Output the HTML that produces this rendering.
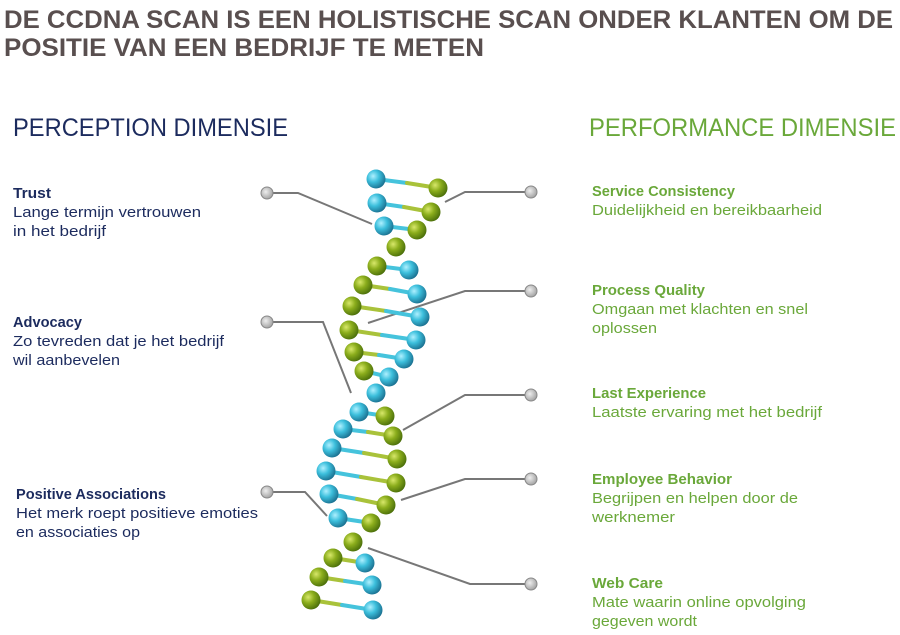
<!DOCTYPE html>
<html><head><meta charset="utf-8"><style>
html,body{margin:0;padding:0;background:#fff;width:900px;height:635px;overflow:hidden}
svg{display:block}
.t{font-family:"Liberation Sans",sans-serif;font-weight:bold;fill:#594f4f;font-size:25px}
.h{font-family:"Liberation Sans",sans-serif;font-size:25px}
.l{font-family:"Liberation Sans",sans-serif;font-size:14.5px}
.b{font-weight:bold}
.n{fill:#1c2b5e}.g{fill:#6aa83a}
</style></head><body>
<svg width="900" height="635" viewBox="0 0 900 635">
<defs>
<radialGradient id="bl" cx="0.35" cy="0.35" r="0.7"><stop offset="0" stop-color="#aef0ff"/><stop offset="0.45" stop-color="#3cbfdc"/><stop offset="1" stop-color="#1a6f8f"/></radialGradient>
<radialGradient id="gr" cx="0.35" cy="0.35" r="0.7"><stop offset="0" stop-color="#d8e86a"/><stop offset="0.45" stop-color="#8bad1c"/><stop offset="1" stop-color="#4a6e0a"/></radialGradient>
<radialGradient id="gy" cx="0.4" cy="0.4" r="0.7"><stop offset="0" stop-color="#eee"/><stop offset="1" stop-color="#999"/></radialGradient>
</defs>
<text class="t" x="4" y="28" textLength="889" lengthAdjust="spacingAndGlyphs">DE CCDNA SCAN IS EEN HOLISTISCHE SCAN ONDER KLANTEN OM DE</text>
<text class="t" x="4" y="56" textLength="480" lengthAdjust="spacingAndGlyphs">POSITIE VAN EEN BEDRIJF TE METEN</text>
<text class="h n" x="13" y="136" textLength="275" lengthAdjust="spacingAndGlyphs">PERCEPTION DIMENSIE</text>
<text class="h g" x="589" y="136" textLength="307" lengthAdjust="spacingAndGlyphs">PERFORMANCE DIMENSIE</text>

<g stroke="#777" stroke-width="2" fill="none">
<polyline points="267,193 298,193 372,224"/>
<polyline points="267,322 323,322 351,393"/>
<polyline points="267,492 305,492 327,516"/>
<polyline points="531,192 465,192 445,202"/>
<polyline points="531,291 465,291 368,323"/>
<polyline points="531,395 465,395 403,430"/>
<polyline points="531,479 465,479 401,500"/>
<polyline points="531,584 470,584 368,548"/>
</g>
<g fill="url(#gy)" stroke="#888" stroke-width="1">
<circle cx="267" cy="193" r="6"/><circle cx="267" cy="322" r="6"/><circle cx="267" cy="492" r="6"/>
<circle cx="531" cy="192" r="6"/><circle cx="531" cy="291" r="6"/><circle cx="531" cy="395" r="6"/><circle cx="531" cy="479" r="6"/><circle cx="531" cy="584" r="6"/>
</g>

<g stroke-width="4" stroke-linecap="round">
<!-- pairs: blue x,y ; green x,y -->
<line x1="376" y1="179" x2="407" y2="183" stroke="#45c3dc"/><line x1="407" y1="183" x2="438" y2="188" stroke="#a9c23a"/>
<line x1="377" y1="203" x2="404" y2="207" stroke="#45c3dc"/><line x1="404" y1="207" x2="431" y2="212" stroke="#a9c23a"/>
<line x1="384" y1="226" x2="417" y2="230" stroke="#45c3dc"/>
<line x1="377" y1="266" x2="409" y2="270" stroke="#45c3dc"/>
<line x1="363" y1="285" x2="390" y2="289" stroke="#a9c23a"/><line x1="390" y1="289" x2="417" y2="294" stroke="#45c3dc"/>
<line x1="352" y1="306" x2="386" y2="311" stroke="#a9c23a"/><line x1="386" y1="311" x2="420" y2="317" stroke="#45c3dc"/>
<line x1="349" y1="330" x2="382" y2="335" stroke="#a9c23a"/><line x1="382" y1="335" x2="416" y2="340" stroke="#45c3dc"/>
<line x1="354" y1="352" x2="379" y2="355" stroke="#a9c23a"/><line x1="379" y1="355" x2="404" y2="359" stroke="#45c3dc"/>
<line x1="364" y1="371" x2="389" y2="377" stroke="#45c3dc"/>
<line x1="359" y1="412" x2="385" y2="416" stroke="#45c3dc"/>
<line x1="343" y1="429" x2="368" y2="432" stroke="#45c3dc"/><line x1="368" y1="432" x2="393" y2="436" stroke="#a9c23a"/>
<line x1="332" y1="448" x2="364" y2="453" stroke="#45c3dc"/><line x1="364" y1="453" x2="397" y2="459" stroke="#a9c23a"/>
<line x1="326" y1="471" x2="361" y2="477" stroke="#45c3dc"/><line x1="361" y1="477" x2="396" y2="483" stroke="#a9c23a"/>
<line x1="329" y1="494" x2="357" y2="499" stroke="#45c3dc"/><line x1="357" y1="499" x2="386" y2="505" stroke="#a9c23a"/>
<line x1="338" y1="518" x2="371" y2="523" stroke="#45c3dc"/>
<line x1="333" y1="558" x2="365" y2="563" stroke="#a9c23a"/>
<line x1="319" y1="577" x2="345" y2="581" stroke="#a9c23a"/><line x1="345" y1="581" x2="372" y2="585" stroke="#45c3dc"/>
<line x1="311" y1="600" x2="342" y2="605" stroke="#a9c23a"/><line x1="342" y1="605" x2="373" y2="610" stroke="#45c3dc"/>
</g>
<g>
<circle cx="376" cy="179" r="9.5" fill="url(#bl)"/><circle cx="438" cy="188" r="9.5" fill="url(#gr)"/>
<circle cx="377" cy="203" r="9.5" fill="url(#bl)"/><circle cx="431" cy="212" r="9.5" fill="url(#gr)"/>
<circle cx="384" cy="226" r="9.5" fill="url(#bl)"/><circle cx="417" cy="230" r="9.5" fill="url(#gr)"/>
<circle cx="396" cy="247" r="9.5" fill="url(#gr)"/>
<circle cx="377" cy="266" r="9.5" fill="url(#gr)"/><circle cx="409" cy="270" r="9.5" fill="url(#bl)"/>
<circle cx="363" cy="285" r="9.5" fill="url(#gr)"/><circle cx="417" cy="294" r="9.5" fill="url(#bl)"/>
<circle cx="352" cy="306" r="9.5" fill="url(#gr)"/><circle cx="420" cy="317" r="9.5" fill="url(#bl)"/>
<circle cx="349" cy="330" r="9.5" fill="url(#gr)"/><circle cx="416" cy="340" r="9.5" fill="url(#bl)"/>
<circle cx="354" cy="352" r="9.5" fill="url(#gr)"/><circle cx="404" cy="359" r="9.5" fill="url(#bl)"/>
<circle cx="364" cy="371" r="9.5" fill="url(#gr)"/><circle cx="389" cy="377" r="9.5" fill="url(#bl)"/>
<circle cx="376" cy="393" r="9.5" fill="url(#bl)"/>
<circle cx="359" cy="412" r="9.5" fill="url(#bl)"/><circle cx="385" cy="416" r="9.5" fill="url(#gr)"/>
<circle cx="343" cy="429" r="9.5" fill="url(#bl)"/><circle cx="393" cy="436" r="9.5" fill="url(#gr)"/>
<circle cx="332" cy="448" r="9.5" fill="url(#bl)"/><circle cx="397" cy="459" r="9.5" fill="url(#gr)"/>
<circle cx="326" cy="471" r="9.5" fill="url(#bl)"/><circle cx="396" cy="483" r="9.5" fill="url(#gr)"/>
<circle cx="329" cy="494" r="9.5" fill="url(#bl)"/><circle cx="386" cy="505" r="9.5" fill="url(#gr)"/>
<circle cx="338" cy="518" r="9.5" fill="url(#bl)"/><circle cx="371" cy="523" r="9.5" fill="url(#gr)"/>
<circle cx="353" cy="542" r="9.5" fill="url(#gr)"/>
<circle cx="333" cy="558" r="9.5" fill="url(#gr)"/><circle cx="365" cy="563" r="9.5" fill="url(#bl)"/>
<circle cx="319" cy="577" r="9.5" fill="url(#gr)"/><circle cx="372" cy="585" r="9.5" fill="url(#bl)"/>
<circle cx="311" cy="600" r="9.5" fill="url(#gr)"/><circle cx="373" cy="610" r="9.5" fill="url(#bl)"/>
</g>

<g class="l n">
<text class="b" x="13" y="198" textLength="38" lengthAdjust="spacingAndGlyphs">Trust</text>
<text x="13" y="217" textLength="188" lengthAdjust="spacingAndGlyphs">Lange termijn vertrouwen</text>
<text x="13" y="236" textLength="93" lengthAdjust="spacingAndGlyphs">in het bedrijf</text>
<text class="b" x="13" y="327" textLength="69" lengthAdjust="spacingAndGlyphs">Advocacy</text>
<text x="13" y="346" textLength="211" lengthAdjust="spacingAndGlyphs">Zo tevreden dat je het bedrijf</text>
<text x="13" y="365" textLength="107" lengthAdjust="spacingAndGlyphs">wil aanbevelen</text>
<text class="b" x="16" y="499" textLength="150" lengthAdjust="spacingAndGlyphs">Positive Associations</text>
<text x="16" y="518" textLength="242" lengthAdjust="spacingAndGlyphs">Het merk roept positieve emoties</text>
<text x="16" y="537" textLength="124" lengthAdjust="spacingAndGlyphs">en associaties op</text>
</g>
<g class="l g">
<text class="b" x="592" y="196" textLength="143" lengthAdjust="spacingAndGlyphs">Service Consistency</text>
<text x="592" y="215" textLength="230" lengthAdjust="spacingAndGlyphs">Duidelijkheid en bereikbaarheid</text>
<text class="b" x="592" y="295" textLength="113" lengthAdjust="spacingAndGlyphs">Process Quality</text>
<text x="592" y="314" textLength="216" lengthAdjust="spacingAndGlyphs">Omgaan met klachten en snel</text>
<text x="592" y="333" textLength="65" lengthAdjust="spacingAndGlyphs">oplossen</text>
<text class="b" x="592" y="398" textLength="114" lengthAdjust="spacingAndGlyphs">Last Experience</text>
<text x="592" y="417" textLength="230" lengthAdjust="spacingAndGlyphs">Laatste ervaring met het bedrijf</text>
<text class="b" x="592" y="484" textLength="140" lengthAdjust="spacingAndGlyphs">Employee Behavior</text>
<text x="592" y="503" textLength="206" lengthAdjust="spacingAndGlyphs">Begrijpen en helpen door de</text>
<text x="592" y="522" textLength="83" lengthAdjust="spacingAndGlyphs">werknemer</text>
<text class="b" x="592" y="588" textLength="71" lengthAdjust="spacingAndGlyphs">Web Care</text>
<text x="592" y="607" textLength="214" lengthAdjust="spacingAndGlyphs">Mate waarin online opvolging</text>
<text x="592" y="626" textLength="105" lengthAdjust="spacingAndGlyphs">gegeven wordt</text>
</g>
</svg>
</body></html>
